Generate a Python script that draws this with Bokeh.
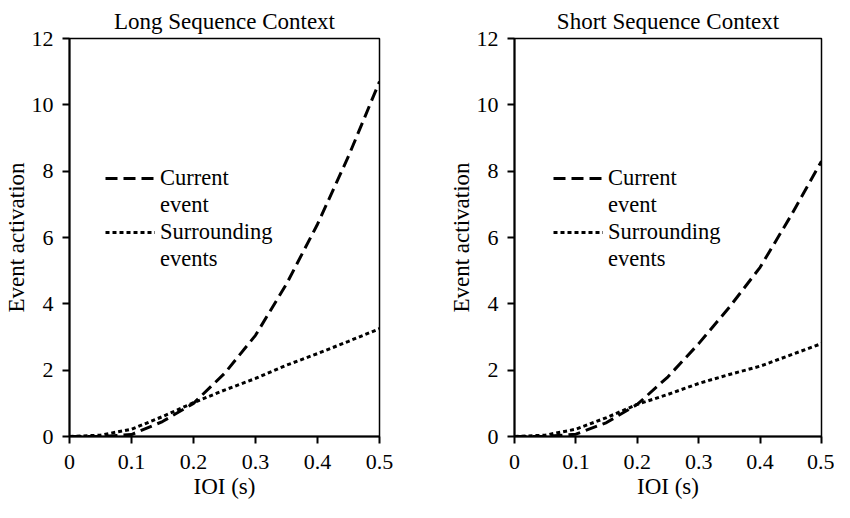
from bokeh.plotting import figure
from bokeh.layouts import row
from bokeh.models import Legend, LegendItem, Range1d, FixedTicker
from bokeh.embed import file_html
from bokeh.resources import INLINE

ioi = [0, 0.05, 0.1, 0.15, 0.2, 0.25, 0.3, 0.35, 0.4, 0.45, 0.5]
long_current = [0, 0.0, 0.06, 0.45, 1.0, 1.9, 3.05, 4.6, 6.4, 8.45, 10.7]
long_surround = [0, 0.04, 0.22, 0.6, 1.02, 1.4, 1.75, 2.15, 2.5, 2.87, 3.25]
short_current = [0, 0.0, 0.07, 0.42, 0.97, 1.8, 2.8, 3.9, 5.1, 6.65, 8.3]
short_surround = [0, 0.04, 0.22, 0.57, 0.97, 1.27, 1.6, 1.87, 2.12, 2.46, 2.8]

titles = ["Long Sequence Context", "Short Sequence Context"]
x_ticks = [0, 0.1, 0.2, 0.3, 0.4, 0.5]
y_ticks = [0, 2, 4, 6, 8, 10, 12]
x_tick_labels = {0: "0", 0.1: "0.1", 0.2: "0.2", 0.3: "0.3", 0.4: "0.4", 0.5: "0.5"}
legend_rows = [["Current", "event"], ["Surrounding", "events"]]

FONT = "Liberation Serif"


def make_panel(title, cur, sur, width, left, right, leg_x):
    p = figure(width=width, height=502, output_backend="svg", toolbar_location=None,
               x_range=Range1d(0, 0.5), y_range=Range1d(0, 12),
               min_border_left=left, min_border_right=right,
               min_border_top=38, min_border_bottom=66)
    p.title.text = title
    p.title.align = "center"
    p.title.text_font = FONT
    p.title.text_font_size = "23px"
    p.title.text_font_style = "normal"
    p.title.text_color = "black"
    p.title.standoff = 10
    p.title.offset = 0
    p.grid.visible = False
    p.outline_line_color = "black"
    p.outline_line_width = 1.5
    p.outline_line_alpha = 1
    p.background_fill_color = "white"
    p.border_fill_color = "white"

    for ax in (p.xaxis, p.yaxis):
        ax.axis_line_color = "black"
        ax.axis_line_width = 2
        ax.major_tick_line_color = "black"
        ax.major_tick_line_width = 2
        ax.major_tick_in = 0
        ax.major_tick_out = 7
        ax.minor_tick_line_color = None
        ax.major_label_text_font = FONT
        ax.major_label_text_font_size = "22px"
        ax.major_label_text_color = "black"
        ax.axis_label_text_font = FONT
        ax.axis_label_text_font_size = "23px"
        ax.axis_label_text_font_style = "normal"
        ax.axis_label_text_color = "black"
    p.xaxis.ticker = FixedTicker(ticks=x_ticks)
    p.xaxis.major_label_overrides = x_tick_labels
    p.yaxis.ticker = FixedTicker(ticks=y_ticks)
    p.xaxis.axis_label = "IOI (s)"
    p.yaxis.axis_label = "Event activation"
    p.xaxis.major_label_standoff = 11
    p.yaxis.major_label_standoff = 9
    p.xaxis.axis_label_standoff = 2
    p.yaxis.axis_label_standoff = 0

    r1 = p.line(ioi, cur, line_color="black", line_width=3, line_dash="12 6")
    r2 = p.line(ioi, sur, line_color="black", line_width=3, line_dash="4 3")
    blank = p.line(x=[], y=[], line_alpha=0)

    items = [LegendItem(label=legend_rows[0][0], renderers=[r1]),
             LegendItem(label=legend_rows[0][1], renderers=[blank]),
             LegendItem(label=legend_rows[1][0], renderers=[r2]),
             LegendItem(label=legend_rows[1][1], renderers=[blank])]
    leg = Legend(items=items, location=(leg_x, 164), glyph_width=50, glyph_height=20,
                 label_standoff=5, spacing=1, padding=0, margin=0,
                 label_text_font=FONT, label_text_font_size="22.5px",
                 label_text_color="black",
                 border_line_alpha=0, background_fill_alpha=0)
    p.add_layout(leg, "center")
    return p


p1 = make_panel(titles[0], long_current, long_surround, 412, 68, 33, 36)
p2 = make_panel(titles[1], short_current, short_surround, 422, 102, 13, 39)
layout = row(p1, p2)

open("out.html", "w").write(file_html(layout, INLINE))
